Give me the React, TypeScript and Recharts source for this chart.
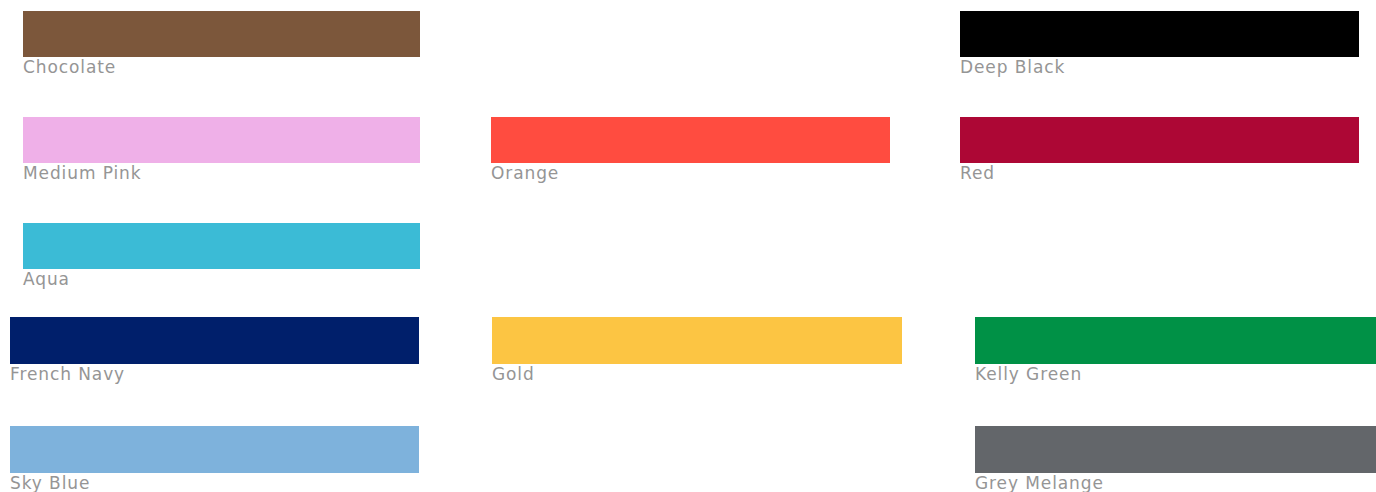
import React from 'react'
import { BarChart, Bar, XAxis, YAxis, Cell, LabelList } from 'recharts'

// swatch names, one array per column, one entry per row (null = empty cell)
const topRows = ['row1', 'row2', 'row3']
const topLeft = ['Chocolate', 'Medium Pink', 'Aqua']
const topMiddle = [null, 'Orange', null]
const topRight = ['Deep Black', 'Red', null]

const bottomRows = ['row4', 'row5']
const bottomLeft = ['French Navy', 'Sky Blue']
const bottomMiddle = ['Gold', null]
const bottomRight = ['Kelly Green', 'Grey Melange']

const swatchColors: Record<string, string> = {
  Chocolate: '#7c573b',
  'Deep Black': '#000000',
  'Medium Pink': '#efb0e8',
  Orange: '#ff4c40',
  Red: '#ad0735',
  Aqua: '#3bbbd6',
  'French Navy': '#001f6b',
  Gold: '#fcc543',
  'Kelly Green': '#009146',
  'Sky Blue': '#7eb2dc',
  'Grey Melange': '#63666a',
}

// layout: horizontal extent of each column, in page pixels
const TOP_SPANS = [[23, 420], [491, 890], [960, 1359]]
const BOTTOM_SPANS = [[10, 419], [492, 902], [975, 1376]]
const WIDTH = 1376

function buildRows(rows: string[], cols: (string | null)[][], spans: number[][]) {
  return rows.map((row, i) => {
    const d: any = { row }
    cols.forEach((col, c) => {
      d['n' + c] = col[i]
      d['c' + c] = col[i] ? spans[c] : null
    })
    return d
  })
}

const topData = buildRows(topRows, [topLeft, topMiddle, topRight], TOP_SPANS)
const bottomData = buildRows(bottomRows, [bottomLeft, bottomMiddle, bottomRight], BOTTOM_SPANS)

const SwatchLabel = (props: any) => {
  const { x, y, height, value } = props
  if (!value) return null
  return (
    <text
      x={x}
      y={y + height + 16}
      fill="#959595"
      fontSize={17}
      fontFamily="'DejaVu Sans', sans-serif"
      letterSpacing={0.9}
    >
      {value}
    </text>
  )
}

function SwatchRows({ data, height, barSize }: { data: any[]; height: number; barSize: number }) {
  return (
    <BarChart
      width={WIDTH}
      height={height}
      data={data}
      layout="vertical"
      margin={{ top: 0, right: 0, bottom: 0, left: 0 }}
      barSize={barSize}
      barGap={-barSize}
    >
      <XAxis type="number" domain={[0, WIDTH]} hide />
      <YAxis type="category" dataKey="row" hide />
      {[0, 1, 2].map((c) => (
        <Bar key={c} dataKey={'c' + c} isAnimationActive={false}>
          {data.map((d, i) => (
            <Cell key={i} fill={d['n' + c] ? swatchColors[d['n' + c]] : 'transparent'} />
          ))}
          <LabelList dataKey={'n' + c} content={SwatchLabel} />
        </Bar>
      ))}
    </BarChart>
  )
}

export default function App() {
  return (
    <div style={{ position: 'absolute', left: 0, top: 0, width: WIDTH, height: 492, overflow: 'hidden', background: '#fff' }}>
      <div style={{ position: 'absolute', left: 0, top: -19 }}>
        <SwatchRows data={topData} height={318} barSize={46} />
      </div>
      <div style={{ position: 'absolute', left: 0, top: 286 }}>
        <SwatchRows data={bottomData} height={218} barSize={47} />
      </div>
    </div>
  )
}
